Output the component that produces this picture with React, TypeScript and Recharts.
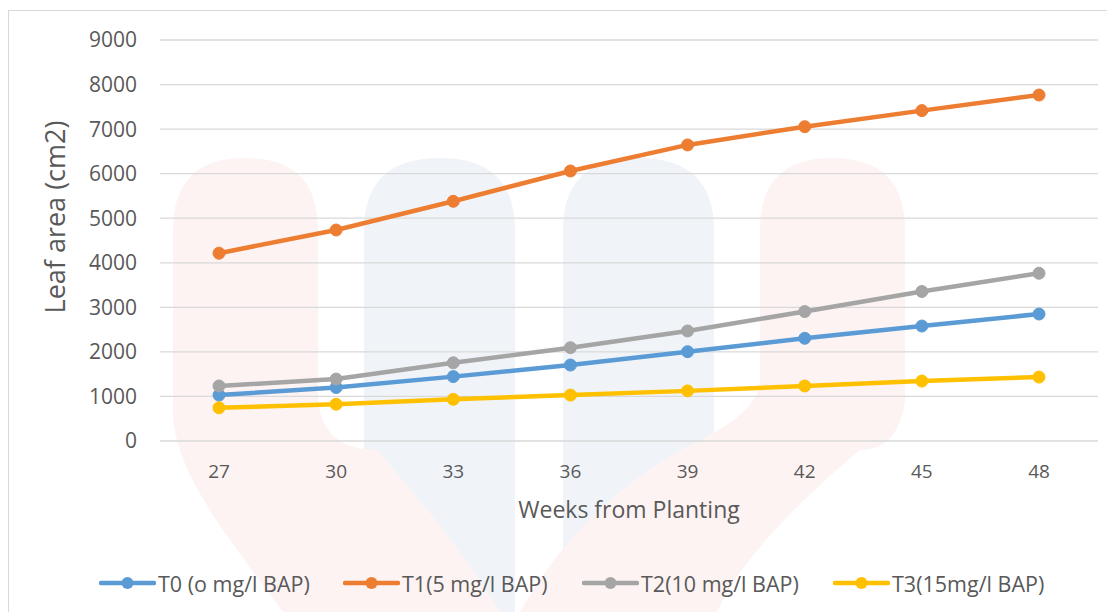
import React from "react";
import { LineChart, Line, XAxis, YAxis, CartesianGrid } from "recharts";

const weeks = [27, 30, 33, 36, 39, 42, 45, 48];
const t0 = [1030, 1200, 1445, 1705, 2005, 2305, 2580, 2850];
const t1 = [4215, 4735, 5380, 6060, 6645, 7055, 7415, 7765];
const t2 = [1235, 1390, 1755, 2095, 2470, 2905, 3355, 3765];
const t3 = [745, 825, 935, 1030, 1125, 1235, 1345, 1435];
const yTicks = [0, 1000, 2000, 3000, 4000, 5000, 6000, 7000, 8000, 9000];

const seriesNames = ["T0 (o mg/l BAP)", "T1(5 mg/l BAP)", "T2(10 mg/l BAP)", "T3(15mg/l BAP)"];
const seriesKeys = ["t0", "t1", "t2", "t3"];
const seriesColors = ["#5B9BD5", "#ED7D31", "#A5A5A5", "#FFC000"];
const legendLefts = [91, 335, 574, 825];

const data = weeks.map((w, i) => ({ week: w, t0: t0[i], t1: t1[i], t2: t2[i], t3: t3[i] }));

const FONT = "'Open Sans', sans-serif";
const TXT = "#595959";

const XTitle = (props: any) => {
  const vb = props.viewBox;
  return (
    <text x={vb.x + vb.width / 2} y={510} textAnchor="middle" fill={TXT} fontSize={23} fontFamily={FONT}>
      Weeks from Planting
    </text>
  );
};

const YTitle = () => {
  const cx = 46;
  const cy = 209;
  return (
    <text x={cx} y={cy} transform={`rotate(-90 ${cx} ${cy})`} textAnchor="middle" dominantBaseline="central" fill={TXT} fontSize={27} fontFamily={FONT}>
      Leaf area (cm2)
    </text>
  );
};

const Watermark = () => (
  <svg width={1115} height={612} style={{ position: "absolute", left: -8, top: -8, pointerEvents: "none" }}>
    <path d="M364,230 Q364,158 440,158 Q515,158 515,230 L515,612 L364,612 Z" fill="#f0f4f9" />
    <path d="M563,230 Q563,158 638,158 Q714,158 714,230 L714,612 L563,612 Z" fill="#f0f4f9" />
    <path d="M173,230 Q173,158 245,158 Q318,158 318,230 L318,400 C322,440 350,450 377,450 C420,500 470,560 500,612 L283,612 C230,540 180,480 173,420 Z" fill="#fdf3f3" />
    <path d="M760,230 Q760,158 832,158 Q905,158 905,230 L905,400 C900,440 880,450 860,450 C800,500 740,560 717,612 L520,612 C560,540 620,480 700,440 C740,420 760,400 760,380 Z" fill="#fdf3f3" />
  </svg>
);

export default function App() {
  return (
    <div style={{ position: "relative", width: 1107, height: 604, fontFamily: FONT }}>
      <Watermark />
      <div style={{ position: "absolute", left: 0, top: 2, width: 1107, height: 640, border: "1px solid #d9d9d9", boxSizing: "border-box" }} />
      <div style={{ position: "absolute", left: 0, top: 0 }}>
        <LineChart width={1107} height={604} data={data} margin={{ top: 32, right: 17, left: 0, bottom: 111 }}>
          <CartesianGrid vertical={false} stroke="#d9d9d9" strokeWidth={1.3} />
          <XAxis
            dataKey="week"
            axisLine={false}
            tickLine={false}
            tickSize={0}
            tickMargin={24}
            height={60}
            interval={0}
            padding={{ left: 59, right: 59 }}
            tick={{ fill: TXT, fontSize: 19, fontFamily: FONT }}
            label={<XTitle />}
          />
          <YAxis
            domain={[0, 9000]}
            ticks={yTicks}
            width={152}
            axisLine={false}
            tickLine={false}
            tickSize={0}
            tickMargin={23}
            interval={0}
            tick={{ fill: TXT, fontSize: 21, fontFamily: FONT }}
            label={<YTitle />}
          />
          {seriesKeys.map((k, i) => (
            <Line
              key={k}
              type="linear"
              dataKey={k}
              name={seriesNames[i]}
              stroke={seriesColors[i]}
              strokeWidth={4.5}
              dot={{ r: 6, fill: seriesColors[i], stroke: seriesColors[i], strokeWidth: 1 }}
              activeDot={false}
              isAnimationActive={false}
            />
          ))}
        </LineChart>
      </div>
      {seriesNames.map((n, i) => (
        <div
          key={n}
          style={{ position: "absolute", left: legendLefts[i], top: 575 - 15, height: 30, display: "flex", alignItems: "center", whiteSpace: "nowrap" }}
        >
          <svg width={57} height={16} style={{ display: "block" }}>
            <line x1={2} y1={8} x2={55} y2={8} stroke={seriesColors[i]} strokeWidth={4.5} strokeLinecap="round" />
            <circle cx={28.5} cy={8} r={6} fill={seriesColors[i]} />
          </svg>
          <span style={{ marginLeft: 2, fontSize: 21.5, color: TXT, fontFamily: FONT }}>{n}</span>
        </div>
      ))}
    </div>
  );
}
